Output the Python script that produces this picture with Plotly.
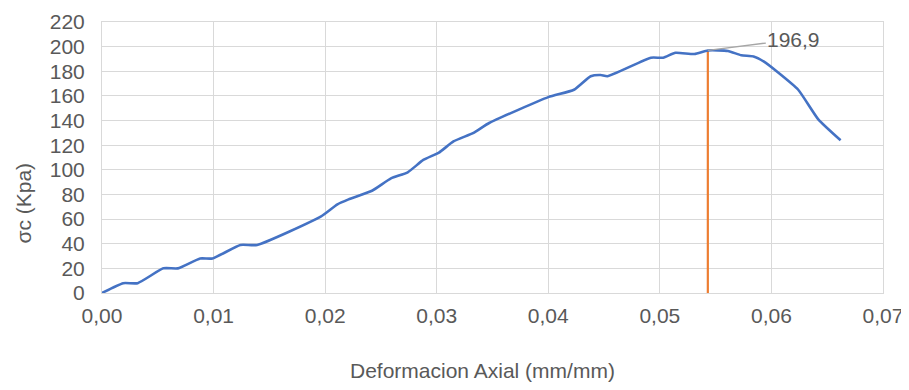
import plotly.graph_objects as go

# Axial strain (mm/mm) and compressive stress (kPa)
deformacion = [0.0, 0.0019, 0.0032, 0.0055, 0.0068, 0.0088, 0.0099, 0.0124, 0.0139,
               0.0196, 0.0211, 0.0221, 0.0242, 0.0259, 0.0274, 0.0288, 0.0302, 0.0315,
               0.0333, 0.0347, 0.0400, 0.0423, 0.0438, 0.0447, 0.0453, 0.0492, 0.0503,
               0.0514, 0.0531, 0.0543, 0.0561, 0.0573, 0.0584, 0.0593, 0.0606, 0.0624,
               0.0642, 0.0662]
esfuerzo = [0, 8, 8, 20, 20, 28, 28, 39, 39,
            62, 72, 76, 83, 93, 98, 108, 114, 123,
            130, 138, 159, 165, 176, 177, 176, 191, 191,
            195, 194, 196.9, 196.5, 193, 192, 188, 179, 165,
            141, 124]

pico_x = 0.0543
pico_y = 196.9
pico_label = "196,9"

x_ticks = [0.0, 0.01, 0.02, 0.03, 0.04, 0.05, 0.06, 0.07]
y_ticks = list(range(0, 221, 20))
x_title = "Deformacion Axial (mm/mm)"
y_title = "σc (Kpa)"

FONT = "Liberation Sans, Arial, sans-serif"
GRAY = "#595959"
GRID = "#D9D9D9"

fig = go.Figure()
fig.add_trace(go.Scatter(
    x=[pico_x, pico_x], y=[0, pico_y], mode="lines",
    line=dict(color="#ED7D31", width=2.2), showlegend=False, hoverinfo="skip"))
fig.add_trace(go.Scatter(
    x=deformacion, y=esfuerzo, mode="lines",
    line=dict(color="#4472C4", width=2.6, shape="spline", smoothing=0.5),
    showlegend=False))

fig.add_annotation(
    x=pico_x, y=pico_y, text=pico_label, showarrow=True, arrowhead=0,
    arrowwidth=1.3, arrowcolor="#A6A6A6", ax=86, ay=-11,
    font=dict(family=FONT, size=21, color=GRAY), xanchor="center", yanchor="middle")

# axis titles (placed like the reference, slightly off-centre)
fig.add_annotation(
    xref="paper", yref="paper", x=0.4866, y=-0.285, text=x_title, showarrow=False,
    xanchor="center", yanchor="middle", font=dict(family=FONT, size=21, color=GRAY))
fig.add_annotation(
    xref="paper", yref="paper", x=-0.1005, y=0.332, text=y_title, showarrow=False,
    textangle=-90, xanchor="center", yanchor="middle",
    font=dict(family=FONT, size=21, color=GRAY))

# the page body adds an 8px offset, so the figure is 8px smaller than the window
fig.update_layout(
    width=901, height=382,
    margin=dict(l=94, r=26, t=14, b=97),
    paper_bgcolor="white", plot_bgcolor="white",
    separators=", ",
    font=dict(family=FONT, size=21, color=GRAY),
    xaxis=dict(
        range=[0, 0.07], tickvals=x_ticks, tickformat=".2f",
        showgrid=True, gridcolor=GRID, gridwidth=1,
        zeroline=False, showline=True, linecolor=GRID, mirror=True,
        ticks="", ticklabelstandoff=4, automargin=False,
        tickfont=dict(size=21, color=GRAY),
    ),
    yaxis=dict(
        range=[0, 220], tickvals=y_ticks,
        showgrid=True, gridcolor=GRID, gridwidth=1,
        zeroline=False, showline=True, linecolor=GRID, mirror=True,
        ticks="", ticklabelstandoff=12, automargin=False,
        tickfont=dict(size=21, color=GRAY),
    ),
)

fig.write_html("out.html")
